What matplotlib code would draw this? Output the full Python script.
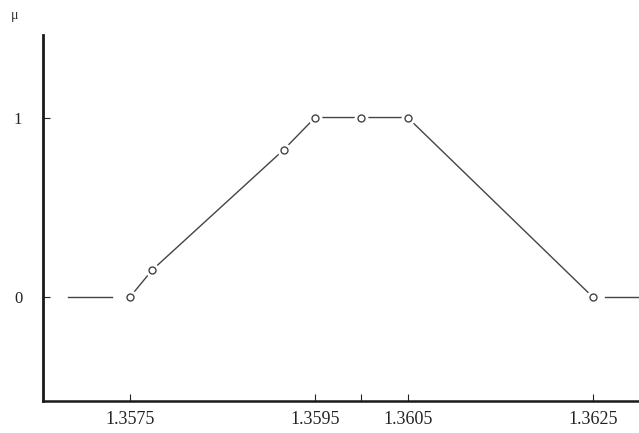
import matplotlib
matplotlib.use('Agg')
import matplotlib.pyplot as plt

plt.rcParams['font.family'] = ['Liberation Serif', 'DejaVu Serif']
plt.rcParams['font.size'] = 12

# 隶属函数折线上的点
x_pts = [1.3575, 1.35774, 1.35916, 1.3595, 1.3600, 1.3605, 1.3625]
mu_pts = [0, 0.15, 0.82, 1, 1, 1, 0]

# 两端的水平段
left_seg = [1.35683, 1.35731]
right_seg = [1.36263, 1.3630]

x_ticks = [1.3575, 1.3595, 1.3600, 1.3605, 1.3625]
x_tick_labels = ['1.3575', '1.3595', '', '1.3605', '1.3625']
y_ticks = [0, 1]
y_tick_labels = ['0', '1']

W, H = 639, 433
fig = plt.figure(figsize=(W / 100, H / 100), dpi=100)
ax = fig.add_axes([43 / W, (H - 401) / H, (W - 43) / W, (401 - 35) / H])

line_c = '#444444'
ax.plot(x_pts, mu_pts, color=line_c, lw=1.0, zorder=2)
ax.plot(left_seg, [0, 0], color=line_c, lw=1.0)
ax.plot(right_seg, [0, 0], color=line_c, lw=1.0)
# 白色底圈让线段在圆点处断开
ax.plot(x_pts, mu_pts, 'o', ms=10, color='white', mec='none', zorder=3)
ax.plot(x_pts, mu_pts, 'o', ms=5, mfc='white', mec=line_c, mew=1.0, zorder=4)

ax.set_xlim(1.35656, 1.3630)
ax.set_ylim(-0.58, 1.46)
ax.spines['top'].set_visible(False)
ax.spines['right'].set_visible(False)
ax.spines['left'].set_linewidth(2)
ax.spines['bottom'].set_linewidth(1.8)
ax.spines['left'].set_color('#1a1a1a')
ax.spines['bottom'].set_color('#1a1a1a')

ax.set_xticks(x_ticks)
ax.set_xticklabels(x_tick_labels, fontsize=13)
ax.set_yticks(y_ticks)
ax.set_yticklabels(y_tick_labels, fontsize=12)
ax.tick_params(axis='x', direction='in', length=5, width=0.8, pad=7, colors='#222222')
ax.tick_params(axis='y', direction='in', length=5, width=0.8, pad=15, colors='#222222')

fig.text(15 / W, 1 - 16 / H, 'μ', ha='center', va='center', fontsize=10, color='#333333')

fig.savefig('out.png', dpi=100)
